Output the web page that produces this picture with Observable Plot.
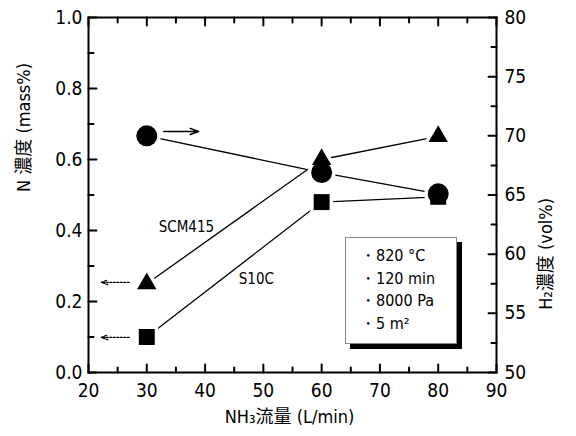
<!DOCTYPE html>
<html>
<head>
<meta charset="utf-8">
<script src="https://cdn.jsdelivr.net/npm/d3@7"></script>
<script src="https://cdn.jsdelivr.net/npm/@observablehq/plot@0.6"></script>
<style>
  body { margin: 0; background: #fff; }
  #wrap { position: relative; width: 576px; height: 436px; }
  #legend {
    position: absolute; left: 345px; top: 237px; width: 112px; height: 107px;
    box-sizing: border-box; border: 1px solid #888; background: #fff;
    box-shadow: 5px 5px 0 #000;
    font-family: "DejaVu Sans Condensed", "DejaVu Sans", sans-serif; font-stretch: condensed;
    font-size: 16px; color: #000; padding: 7px 0 0 14px; line-height: 22.5px;
  }
</style>
</head>
<body>
<div id="wrap"><div id="chart"></div><div id="legend"></div></div>
<script>
// ---- data ----
const flow = [30, 60, 80];                 // NH3 flow (L/min)
const scm415 = [0.25, 0.60, 0.665];        // N concentration, SCM415 (mass%)
const s10c = [0.10, 0.48, 0.495];          // N concentration, S10C (mass%)
const h2 = [70.0, 66.9, 65.1];             // H2 concentration (vol%)

const xTicks = [20, 30, 40, 50, 60, 70, 80, 90];
const xMinor = [25, 35, 45, 55, 65, 75, 85];
const yTicks = [0, 0.2, 0.4, 0.6, 0.8, 1.0];
const yMinor = [0.1, 0.3, 0.5, 0.7, 0.9];
const h2Domain = [50, 80];
const h2Ticks = [50, 55, 60, 65, 70, 75, 80];
const h2Minor = [52.5, 57.5, 62.5, 67.5, 72.5, 77.5];

// annotation arrows (data units)
const arrowX1 = [32.9, 27.0, 27.0];
const arrowX2 = [38.9, 22.2, 22.2];
const arrowY = [0.679, 0.254, 0.099];
const arrowDashed = [false, true, true];

const seriesLabels = ["SCM415", "S10C"];
const labelX = [36.8, 48.8];
const labelY = [0.408, 0.262];

const legendItems = ["・820 °C", "・120 min", "・8000 Pa", "・5 m²"];

const xLabel = "NH₃流量 (L/min)";
const yLabel = "N 濃度 (mass%)";
const y2Label = "H₂濃度 (vol%)";

// ---- build ----
const xDomain = [20, 90];
const yDomain = [0, 1];
const h2ToY = v => (v - h2Domain[0]) / (h2Domain[1] - h2Domain[0]);
const yToH2 = y => h2Domain[0] + y * (h2Domain[1] - h2Domain[0]);

const scmData = flow.map((x, i) => ({x, y: scm415[i]}));
const s10cData = flow.map((x, i) => ({x, y: s10c[i]}));
const h2Data = flow.map((x, i) => ({x, y: h2ToY(h2[i])}));
const arrows = arrowX1.map((x1, i) => ({x1, x2: arrowX2[i], y: arrowY[i], dashed: arrowDashed[i]}));
const labels = seriesLabels.map((t, i) => ({t, x: labelX[i], y: labelY[i]}));

const font = '"DejaVu Sans Condensed", "DejaVu Sans", "Noto Sans CJK JP", sans-serif';
const halo = {fill: "white", stroke: "white", strokeWidth: 7};

// inward ticks as two-point line segments (data units derived from frame size)
const frameW = 576 - 88 - 80, frameH = 436 - 17 - 64;
const dxUnit = (xDomain[1] - xDomain[0]) / frameW;
const dyUnit = (yDomain[1] - yDomain[0]) / frameH;
const tickPts = [];
let tid = 0;
const seg = (xa, ya, xb, yb) => { tid++; tickPts.push({x: xa, y: ya, k: tid}, {x: xb, y: yb, k: tid}); };
for (const [vals, len] of [[xTicks, 8], [xMinor, 5]]) for (const v of vals) {
  seg(v, yDomain[0], v, yDomain[0] + len * dyUnit);
  seg(v, yDomain[1], v, yDomain[1] - len * dyUnit);
}
for (const [vals, len] of [[yTicks, 8], [yMinor, 5]]) for (const v of vals)
  seg(xDomain[0], v, xDomain[0] + len * dxUnit, v);
for (const [vals, len] of [[h2Ticks, 8], [h2Minor, 5]]) for (const v of vals)
  seg(xDomain[1], h2ToY(v), xDomain[1] - len * dxUnit, h2ToY(v));

const chart = Plot.plot({
  width: 576, height: 436,
  marginLeft: 88, marginRight: 80, marginTop: 17, marginBottom: 64,
  x: {domain: xDomain},
  y: {domain: yDomain},
  style: {fontFamily: font, fontSize: "19px", color: "#000", background: "#fff", fontStretch: "condensed"},
  marks: [
    // tick labels
    Plot.axisX(xTicks, {anchor: "bottom", tickSize: 0, tickPadding: 11, fontSize: 19, label: null}),
    Plot.axisY(yTicks, {anchor: "left", tickSize: 0, tickPadding: 6, fontSize: 19, tickFormat: d3.format(".1f"), label: null}),
    Plot.axisY(h2Ticks.map(h2ToY), {anchor: "right", tickSize: 0, tickPadding: 8, fontSize: 19, tickFormat: d => String(Math.round(yToH2(d))), label: null}),
    Plot.frame({strokeWidth: 2, fill: "none"}),
    // lines
    Plot.line(scmData, {x: "x", y: "y", strokeWidth: 1.3}),
    Plot.line(s10cData, {x: "x", y: "y", strokeWidth: 1.3}),
    Plot.line(h2Data, {x: "x", y: "y", strokeWidth: 1.3}),
    // arrows
    Plot.arrow(arrows.filter(d => !d.dashed), {x1: "x1", x2: "x2", y1: "y", y2: "y", headLength: 9, headAngle: 40, strokeWidth: 1.5}),
    Plot.arrow(arrows.filter(d => d.dashed), {x1: "x1", x2: "x2", y1: "y", y2: "y", headLength: 8, headAngle: 40, strokeWidth: 1.3, strokeDasharray: "2,1.5"}),
    // halos
    Plot.dot(s10cData, {x: "x", y: "y", symbol: "square", r: 9, ...halo}),
    Plot.dot(scmData, {x: "x", y: "y", symbol: "triangle", r: 7.2, ...halo}),
    Plot.dot(h2Data, {x: "x", y: "y", symbol: "circle", r: 10.5, ...halo}),
    // markers
    Plot.dot(s10cData, {x: "x", y: "y", symbol: "square", r: 9, fill: "black", stroke: "none"}),
    Plot.dot(scmData, {x: "x", y: "y", symbol: "triangle", r: 7.2, fill: "black", stroke: "none"}),
    Plot.dot(h2Data, {x: "x", y: "y", symbol: "circle", r: 10.5, fill: "black", stroke: "none"}),
    // inward ticks
    Plot.line(tickPts, {x: "x", y: "y", z: "k", stroke: "black", strokeWidth: 2}),
    // series labels
    Plot.text(labels, {x: "x", y: "y", text: "t", fontSize: 15}),
    // axis titles
    Plot.text([xLabel], {frameAnchor: "bottom", dy: 50, dx: -3, fontSize: 18}),
    Plot.text([yLabel], {frameAnchor: "left", dx: -64, dy: -3, rotate: -90, fontSize: 18}),
    Plot.text([y2Label], {frameAnchor: "right", dx: 50, dy: 3, rotate: -90, fontSize: 18})
  ]
});
document.getElementById("chart").appendChild(chart);

d3.select("#legend").selectAll("div").data(legendItems).join("div").text(d => d);
</script>
</body>
</html>
